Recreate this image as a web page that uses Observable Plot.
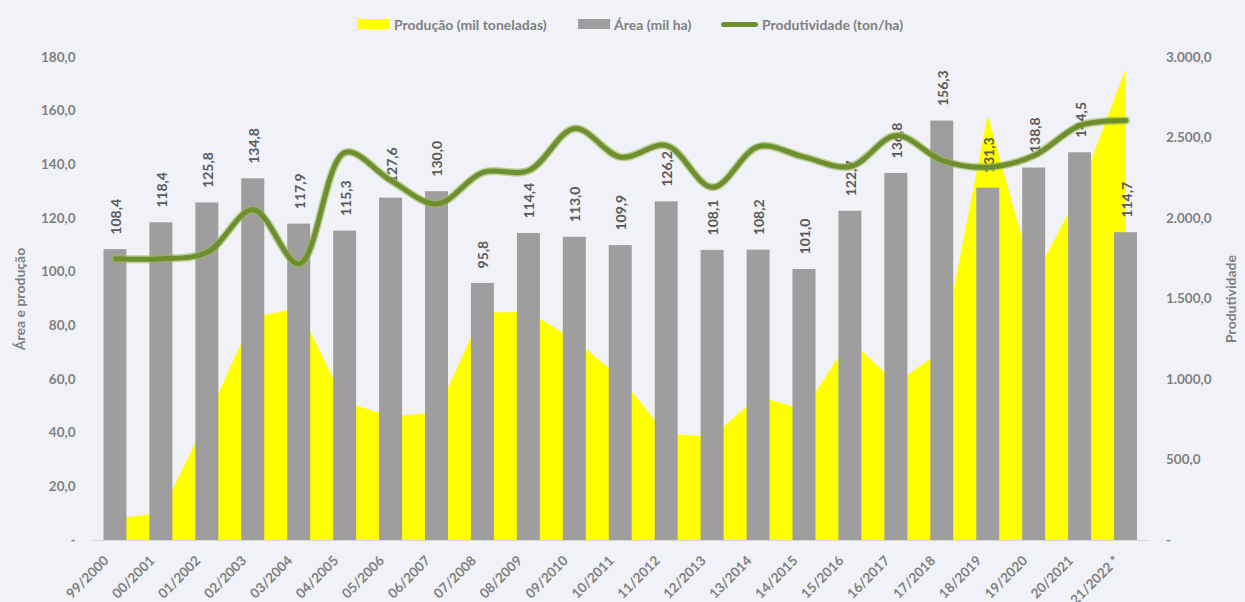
<!DOCTYPE html>
<html>
<head>
<meta charset="utf-8">
<script src="https://cdn.jsdelivr.net/npm/d3@7"></script>
<script src="https://cdn.jsdelivr.net/npm/@observablehq/plot@0.6"></script>
<style>
  html, body { margin: 0; padding: 0; background: #f1f2f7; }
  #wrap { position: relative; width: 1245px; height: 602px; overflow: hidden; font-family: Lato, "Open Sans", sans-serif; }
  #legend { position: relative; height: 40px; width: 1245px; }
  .lg { position: absolute; top: 0; height: 40px; display: flex; align-items: center; font-size: 14px; font-weight: 700; color: #7f7f7f; white-space: nowrap; }
  .sw { display: inline-block; margin-right: 4px; }
</style>
</head>
<body>
<div id="wrap">
  <div id="legend">
    <div class="lg" style="left:357px; top:4px"><span class="sw" style="width:33px;height:10px;background:#ffff00"></span>Produção (mil toneladas)</div>
    <div class="lg" style="left:578px; top:4px"><span class="sw" style="width:32px;height:10px;background:#9e9e9e"></span>Área (mil ha)</div>
    <div class="lg" style="left:721px; top:4px"><span class="sw" style="width:37px;height:5px;border-radius:3px;background:#6e8f2e"></span>Produtividade (ton/ha)</div>
  </div>
  <div id="chart"></div>
</div>
<script>
const categories = ["99/2000","00/2001","01/2002","02/2003","03/2004","04/2005","05/2006","06/2007","07/2008","08/2009","09/2010","10/2011","11/2012","12/2013","13/2014","14/2015","15/2016","16/2017","17/2018","18/2019","19/2020","20/2021","21/2022 *"];
const areaMilHa = [108.4,118.4,125.8,134.8,117.9,115.3,127.6,130.0,95.8,114.4,113.0,109.9,126.2,108.1,108.2,101.0,122.7,136.8,156.3,131.3,138.8,144.5,114.7];
const producaoMilT = [8,10,45,83,86.5,51.5,46,47.5,84.8,85,74.7,60.6,39.6,38.6,53.5,48.5,74.7,58.4,70.5,158.5,97,130,175.5];
const produtividade = [1750,1750,1790,2054,1718,2410,2235,2091,2286,2298,2559,2381,2453,2194,2447,2381,2323,2515,2360,2319,2391,2578,2609];
const leftTicks = [0,20,40,60,80,100,120,140,160,180];
const rightTicks = [0,500,1000,1500,2000,2500,3000];

const locale = d3.formatLocale({decimal: ",", thousands: ".", grouping: [3], currency: ["R$", ""]});
const fmt = locale.format(",.1f");
const k = 180 / 3000; // right axis -> left axis units

const rows = categories.map((c, i) => ({i, c, area: areaMilHa[i], prod: producaoMilT[i], pv: produtividade[i]}));

const chart = Plot.plot({
  width: 1245,
  height: 562,
  marginTop: 17,
  marginBottom: 62,
  marginLeft: 92,
  marginRight: 96.5,
  style: {background: "transparent", fontFamily: "Lato, 'Open Sans', sans-serif", fontSize: "13.5px", fontWeight: "700", color: "#7f7f7f", overflow: "visible"},
  x: {type: "linear", domain: [-0.5, 22.5]},
  y: {domain: [0, 180]},
  marks: [
    Plot.areaY(rows, {x: "i", y: "prod", fill: "#ffff00", curve: "linear"}),
    Plot.rectY(rows, {x1: d => d.i - 0.25, x2: d => d.i + 0.25, y: "area", fill: "#9e9e9e"}),
    Plot.ruleY([0], {stroke: "#d9d9d9", strokeWidth: 1}),
    Plot.text(rows, {x: "i", y: "area", text: d => fmt(d.area), rotate: -90, textAnchor: "start", dy: -15, dx: 1, fill: "#595959", fontSize: 14, fontWeight: 700}),
    Plot.line(rows, {x: "i", y: d => d.pv * k, stroke: "#9bb55a", strokeWidth: 8, strokeOpacity: 0.6, curve: "catmull-rom"}),
    Plot.line(rows, {x: "i", y: d => d.pv * k, stroke: "#6e8f2e", strokeWidth: 5, curve: "catmull-rom"}),
    Plot.axisY(leftTicks, {tickFormat: d => d === 0 ? "-" : fmt(d), tickSize: 0, tickPadding: 17, label: null}),
    Plot.axisY(rightTicks.map(v => v * k), {anchor: "right", tickFormat: d => d === 0 ? "-" : fmt(d / k), tickSize: 0, tickPadding: 17, label: null}),
    Plot.axisX(d3.range(categories.length), {tickFormat: i => categories[i], tickRotate: -45, tickSize: 0, tickPadding: 18, dx: -9, fontSize: 13.5, label: null}),
    Plot.text(["Área e produção"], {frameAnchor: "left", textAnchor: "middle", dx: -72, rotate: -90, fontSize: 14, fill: "#7f7f7f"}),
    Plot.text(["Produtividade"], {frameAnchor: "right", textAnchor: "middle", dx: 83, rotate: -90, fontSize: 14, fill: "#7f7f7f"})
  ]
});
document.getElementById("chart").appendChild(chart);
</script>
</body>
</html>
